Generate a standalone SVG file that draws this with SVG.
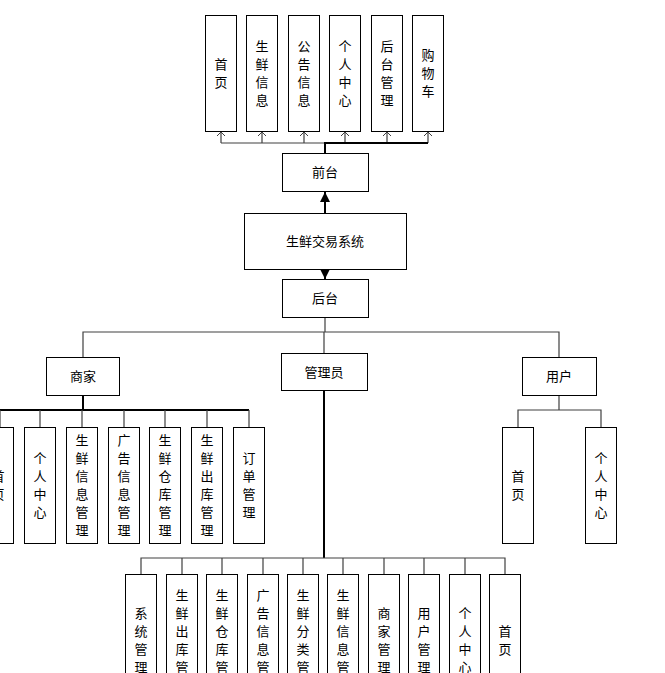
<svg xmlns="http://www.w3.org/2000/svg" width="665" height="673" viewBox="0 0 665 673">
<style>
.b{fill:#fff;stroke:#000;stroke-width:1}
text{font-family:"Noto Sans CJK SC","Liberation Sans",sans-serif;font-size:13px;fill:#000;text-anchor:middle}
.c{fill:none;stroke:#404040;stroke-width:1.2}
.k{fill:none;stroke:#000;stroke-width:2}
.o{fill:none;stroke:#404040;stroke-width:1}
</style>
<defs>
<marker id="f" viewBox="0 0 10 10" refX="10" refY="5" markerWidth="10" markerHeight="10" markerUnits="userSpaceOnUse" orient="auto"><path d="M0,0L10,5L0,10z" fill="#000"/></marker>
</defs>
<rect width="665" height="673" fill="#fff"/>
<g id="connectors">
<path class="c" d="M221,143V132M262,143V132M304,143V132M345,143V132M387,143V132M428,143V132M221,143H428"/>
<path class="o" d="M217,136L221,132L225,136M258,136L262,132L266,136M300,136L304,132L308,136M341,136L345,132L349,136M383,136L387,132L391,136M424,136L428,132L432,136"/>
<path class="k" d="M325,153V143H428"/>
<path class="k" d="M325,213V192" marker-end="url(#f)"/>
<path class="k" d="M325,269V279" marker-end="url(#f)"/>
<path class="c" d="M325,317V332M83,357V332H559V357M324,332V353"/>
<path class="k" d="M83,395V410H0M83,410H249"/>
<path class="c" d="M0,410V427M40,410V427M82,410V427M124,410V427M165,410V427M207,410V427M249,410V427"/>
<path class="c" d="M559,395V410M518,427V410H601V427"/>
<path class="k" d="M324,390V558"/>
<path class="c" d="M141,574V558H505V574M182,558V574M222,558V574M263,558V574M303,558V574M343,558V574M384,558V574M424,558V574M465,558V574"/>
</g>
<g id="front">
<rect class="b" x="205.500" y="15.500" width="31" height="116"/><text x="221" y="69">首</text><text x="221" y="87">页</text>
<rect class="b" x="246.500" y="15.500" width="31" height="116"/><text x="262" y="51">生</text><text x="262" y="69">鲜</text><text x="262" y="87">信</text><text x="262" y="105">息</text>
<rect class="b" x="288.500" y="15.500" width="31" height="116"/><text x="304" y="51">公</text><text x="304" y="69">告</text><text x="304" y="87">信</text><text x="304" y="105">息</text>
<rect class="b" x="329.500" y="15.500" width="31" height="116"/><text x="345" y="51">个</text><text x="345" y="69">人</text><text x="345" y="87">中</text><text x="345" y="105">心</text>
<rect class="b" x="371.500" y="15.500" width="31" height="116"/><text x="387" y="51">后</text><text x="387" y="69">台</text><text x="387" y="87">管</text><text x="387" y="105">理</text>
<rect class="b" x="412.500" y="15.500" width="31" height="116"/><text x="428" y="60">购</text><text x="428" y="78">物</text><text x="428" y="96">车</text>
</g>
<g id="qiantai"><rect class="b" x="282.500" y="153.500" width="86" height="38"/><text x="325" y="177">前台</text></g>
<g id="system"><rect class="b" x="244.500" y="213.500" width="162" height="56"/><text x="325" y="246">生鲜交易系统</text></g>
<g id="houtai"><rect class="b" x="282.500" y="279.500" width="86" height="38"/><text x="325" y="303">后台</text></g>
<g id="merchant"><rect class="b" x="46.500" y="357.500" width="73" height="38"/><text x="83" y="381">商家</text></g>
<g id="admin"><rect class="b" x="281.500" y="353.500" width="86" height="37"/><text x="324" y="377">管理员</text></g>
<g id="user"><rect class="b" x="522.500" y="357.500" width="74" height="38"/><text x="559" y="381">用户</text></g>
<g id="merchant-children">
<rect class="b" x="-17.500" y="427.500" width="31" height="116"/><text x="-2" y="481">首</text><text x="-2" y="499">页</text>
<rect class="b" x="24.500" y="427.500" width="31" height="116"/><text x="40" y="463">个</text><text x="40" y="481">人</text><text x="40" y="499">中</text><text x="40" y="517">心</text>
<rect class="b" x="66.500" y="427.500" width="31" height="116"/><text x="82" y="445">生</text><text x="82" y="463">鲜</text><text x="82" y="481">信</text><text x="82" y="499">息</text><text x="82" y="517">管</text><text x="82" y="535">理</text>
<rect class="b" x="108.500" y="427.500" width="31" height="116"/><text x="124" y="445">广</text><text x="124" y="463">告</text><text x="124" y="481">信</text><text x="124" y="499">息</text><text x="124" y="517">管</text><text x="124" y="535">理</text>
<rect class="b" x="149.500" y="427.500" width="31" height="116"/><text x="165" y="445">生</text><text x="165" y="463">鲜</text><text x="165" y="481">仓</text><text x="165" y="499">库</text><text x="165" y="517">管</text><text x="165" y="535">理</text>
<rect class="b" x="191.500" y="427.500" width="31" height="116"/><text x="207" y="445">生</text><text x="207" y="463">鲜</text><text x="207" y="481">出</text><text x="207" y="499">库</text><text x="207" y="517">管</text><text x="207" y="535">理</text>
<rect class="b" x="233.500" y="427.500" width="31" height="116"/><text x="249" y="463">订</text><text x="249" y="481">单</text><text x="249" y="499">管</text><text x="249" y="517">理</text>
</g>
<g id="user-children">
<rect class="b" x="502.500" y="427.500" width="31" height="116"/><text x="518" y="481">首</text><text x="518" y="499">页</text>
<rect class="b" x="585.500" y="427.500" width="31" height="116"/><text x="601" y="463">个</text><text x="601" y="481">人</text><text x="601" y="499">中</text><text x="601" y="517">心</text>
</g>
<g id="admin-children">
<rect class="b" x="125.500" y="574.500" width="31" height="116"/><text x="141" y="618">系</text><text x="141" y="636">统</text><text x="141" y="654">管</text><text x="141" y="672">理</text>
<rect class="b" x="166.500" y="574.500" width="31" height="116"/><text x="182" y="600">生</text><text x="182" y="618">鲜</text><text x="182" y="636">出</text><text x="182" y="654">库</text><text x="182" y="672">管</text><text x="182" y="690">理</text>
<rect class="b" x="206.500" y="574.500" width="31" height="116"/><text x="222" y="600">生</text><text x="222" y="618">鲜</text><text x="222" y="636">仓</text><text x="222" y="654">库</text><text x="222" y="672">管</text><text x="222" y="690">理</text>
<rect class="b" x="247.500" y="574.500" width="31" height="116"/><text x="263" y="600">广</text><text x="263" y="618">告</text><text x="263" y="636">信</text><text x="263" y="654">息</text><text x="263" y="672">管</text><text x="263" y="690">理</text>
<rect class="b" x="287.500" y="574.500" width="31" height="116"/><text x="303" y="600">生</text><text x="303" y="618">鲜</text><text x="303" y="636">分</text><text x="303" y="654">类</text><text x="303" y="672">管</text><text x="303" y="690">理</text>
<rect class="b" x="327.500" y="574.500" width="31" height="116"/><text x="343" y="600">生</text><text x="343" y="618">鲜</text><text x="343" y="636">信</text><text x="343" y="654">息</text><text x="343" y="672">管</text><text x="343" y="690">理</text>
<rect class="b" x="368.500" y="574.500" width="31" height="116"/><text x="384" y="618">商</text><text x="384" y="636">家</text><text x="384" y="654">管</text><text x="384" y="672">理</text>
<rect class="b" x="408.500" y="574.500" width="31" height="116"/><text x="424" y="618">用</text><text x="424" y="636">户</text><text x="424" y="654">管</text><text x="424" y="672">理</text>
<rect class="b" x="449.500" y="574.500" width="31" height="116"/><text x="465" y="618">个</text><text x="465" y="636">人</text><text x="465" y="654">中</text><text x="465" y="672">心</text>
<rect class="b" x="489.500" y="574.500" width="31" height="116"/><text x="505" y="636">首</text><text x="505" y="654">页</text>
</g>
</svg>
